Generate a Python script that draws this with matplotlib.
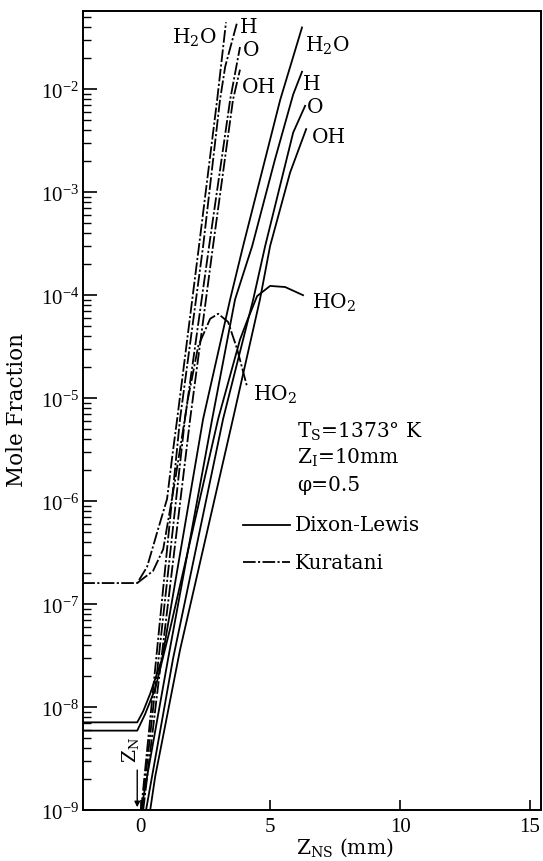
import math
import matplotlib
matplotlib.use("Agg")
import matplotlib.pyplot as plt
from matplotlib.ticker import FixedLocator, FuncFormatter, LogLocator, NullFormatter
from matplotlib.lines import Line2D

plt.rcParams['font.family'] = ['DejaVu Serif', 'Liberation Serif']
plt.rcParams['mathtext.fontset'] = 'custom'
plt.rcParams['mathtext.rm'] = 'Liberation Serif'
plt.rcParams['mathtext.it'] = 'Liberation Serif:italic'
plt.rcParams['mathtext.bf'] = 'Liberation Serif:bold'

# ---- Kuratani profiles (dash-dot) ----
k_h2o_x = [-3.0, -0.13, 0.25, 0.64, 1.02, 1.21, 1.41, 2.25, 2.95, 3.29]
k_h2o_y = [1.6e-7, 1.6e-7, 2.3e-7, 5.0e-7, 1.05e-6, 2.6e-6, 6.3e-6, 3.0e-4, 7.9e-3, 4.47e-2]
k_h_x = [0.02, 1.52, 2.41, 3.06, 3.26, 3.72]
k_h_y = [1.0e-9, 6.3e-6, 3.0e-4, 7.9e-3, 1.66e-2, 4.47e-2]
k_o_x = [0.05, 1.71, 2.64, 3.45, 3.83]
k_o_y = [1.0e-9, 6.3e-6, 3.0e-4, 7.9e-3, 2.57e-2]
k_oh_x = [0.10, 1.91, 2.79, 3.56, 3.83]
k_oh_y = [1.0e-9, 6.3e-6, 3.0e-4, 7.9e-3, 1.55e-2]
k_ho2_x = [-0.13, 0.48, 0.87, 1.33, 1.83, 2.22, 2.68, 2.99, 3.37, 3.72, 4.10]
k_ho2_y = [1.6e-7, 2.1e-7, 3.4e-7, 1.6e-6, 1.0e-5, 3.2e-5, 5.9e-5, 6.6e-5, 5.5e-5, 3.0e-5, 1.3e-5]

# ---- Dixon-Lewis profiles (solid) ----
d_h2o_x = [-3.0, -0.13, 0.10, 0.37, 0.83, 2.41, 3.45, 3.95, 5.38, 6.22]
d_h2o_y = [7.1e-9, 7.1e-9, 9.1e-9, 1.35e-8, 2.95e-8, 6.3e-6, 9.1e-5, 3.0e-4, 7.9e-3, 3.98e-2]
d_h_x = [0.02, 1.06, 2.76, 3.64, 4.30, 5.18, 5.88, 6.22]
d_h_y = [1.0e-9, 2.95e-8, 6.3e-6, 9.1e-5, 3.0e-4, 2.09e-3, 8.9e-3, 1.48e-2]
d_o_x = [0.21, 1.25, 3.18, 4.34, 4.80, 5.88, 6.34]
d_o_y = [1.0e-9, 2.95e-8, 6.3e-6, 9.1e-5, 3.0e-4, 3.8e-3, 6.9e-3]
d_oh_x = [0.37, 0.56, 1.52, 3.56, 4.60, 4.99, 5.76, 6.38]
d_oh_y = [1.0e-9, 2.1e-9, 3.6e-8, 6.3e-6, 9.1e-5, 3.0e-4, 1.55e-3, 4.1e-3]
d_ho2_x = [-3.0, -0.13, 0.17, 0.56, 1.14, 2.99, 3.83, 4.10, 4.49, 4.99, 5.57, 6.26]
d_ho2_y = [5.9e-9, 5.9e-9, 8.5e-9, 1.5e-8, 5.8e-8, 6.3e-6, 3.7e-5, 5.6e-5, 9.8e-5, 1.23e-4, 1.2e-4, 1.0e-4]

x_ticks = [0, 5, 10, 15]
y_decades = [-9, -8, -7, -6, -5, -4, -3, -2]

DASHDOT = (0, (7, 1.3, 1.2, 1.3))
LW = 1.3
FS = 14.5          # annotation text
TFS = 15           # tick labels
MF = 'dejavuserif'

fig = plt.figure(figsize=(5.43, 8.62), dpi=100)
ax = fig.add_axes([83 / 543, 51 / 862, 458 / 543, 799 / 862])
ax.set_yscale('log')
ax.set_xlim(-2.22, 15.43)
ax.set_ylim(1e-9, 10 ** -1.24)

for xs, ys in [(k_h2o_x, k_h2o_y), (k_h_x, k_h_y), (k_o_x, k_o_y),
               (k_oh_x, k_oh_y), (k_ho2_x, k_ho2_y)]:
    ax.plot(xs, ys, color='black', lw=LW, linestyle=DASHDOT)
for xs, ys in [(d_h2o_x, d_h2o_y), (d_h_x, d_h_y), (d_o_x, d_o_y),
               (d_oh_x, d_oh_y), (d_ho2_x, d_ho2_y)]:
    ax.plot(xs, ys, color='black', lw=LW, linestyle='-')

# axes frame and ticks
for s in ax.spines.values():
    s.set_linewidth(1.4)
ax.xaxis.set_major_locator(FixedLocator(x_ticks))
ax.xaxis.set_minor_locator(FixedLocator([]))
ax.yaxis.set_major_locator(FixedLocator([10.0 ** d for d in y_decades]))
ax.yaxis.set_minor_locator(LogLocator(base=10, subs=range(2, 10), numticks=20))
ax.yaxis.set_minor_formatter(NullFormatter())
ax.yaxis.set_major_formatter(FuncFormatter(lambda v, p: r'$10^{-%d}$' % round(-math.log10(v))))
ax.tick_params(axis='both', which='both', direction='in', color='black')
ax.tick_params(axis='y', which='major', length=10, width=1.2, labelsize=TFS, pad=3)
ax.tick_params(axis='y', which='minor', length=6, width=1.0)
ax.tick_params(axis='x', which='major', length=7, width=1.2, labelsize=TFS, pad=5)
for lab in ax.get_xticklabels():
    lab.set_fontfamily('Liberation Serif')

fig.text(17 / 543, 1 - 410 / 862, 'Mole Fraction', rotation=90, ha='center', va='center', fontsize=FS + 1)
fig.text(345 / 543, 1 - 848 / 862, r'Z$_{\mathrm{NS}}$ (mm)', ha='center', va='center', fontsize=FS,
         math_fontfamily=MF)

# species labels
labels = [
    (1.21, 0.032, r'H$_2$O'), (3.83, 0.041, 'H'), (3.95, 0.0245, 'O'), (3.91, 0.0107, 'OH'),
    (6.34, 0.027, r'H$_2$O'), (6.26, 0.0115, 'H'), (6.42, 0.0068, 'O'), (6.61, 0.0035, 'OH'),
    (6.61, 8.7e-5, r'HO$_2$'), (4.34, 1.1e-5, r'HO$_2$'),
]
for lx, ly, txt in labels:
    ax.text(lx, ly, txt, ha='left', va='center', fontsize=FS, math_fontfamily=MF)

# conditions
ax.text(0.467, 0.474, r'T$_{\mathrm{S}}$=1373° K', transform=ax.transAxes, ha='left', va='center',
        fontsize=FS, math_fontfamily=MF)
ax.text(0.467, 0.442, r'Z$_{\mathrm{I}}$=10mm', transform=ax.transAxes, ha='left', va='center',
        fontsize=FS, math_fontfamily=MF)
ax.text(0.467, 0.408, 'φ=0.5', transform=ax.transAxes, ha='left', va='center', fontsize=FS)

# legend
ax.add_line(Line2D([0.349, 0.452], [0.357, 0.357], transform=ax.transAxes, color='black', lw=LW))
ax.text(0.463, 0.357, 'Dixon-Lewis', transform=ax.transAxes, ha='left', va='center', fontsize=FS)
ax.add_line(Line2D([0.349, 0.452], [0.310, 0.310], transform=ax.transAxes, color='black', lw=LW,
                   linestyle=DASHDOT))
ax.text(0.463, 0.310, 'Kuratani', transform=ax.transAxes, ha='left', va='center', fontsize=FS)

# nozzle position marker
ax.annotate('', xy=(-0.13, 1.0e-9), xytext=(-0.13, 2.6e-9),
            arrowprops=dict(arrowstyle='-|>', color='black', lw=1.0, mutation_scale=8))
ax.text(-0.40, 3.9e-9, r'Z$_{\mathrm{N}}$', rotation=90, ha='center', va='center', fontsize=FS - 1,
        math_fontfamily=MF)

fig.savefig('out.png', dpi=100)
